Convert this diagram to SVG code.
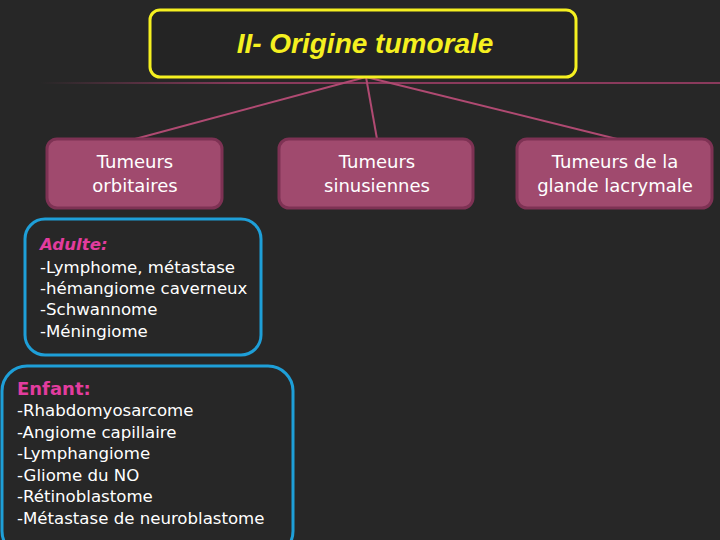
<svg xmlns="http://www.w3.org/2000/svg" width="720" height="540" viewBox="0 0 720 540">
<defs>
<linearGradient id="fade" x1="0" y1="0" x2="1" y2="0">
<stop offset="0" stop-color="#8a3a5c" stop-opacity="0"/>
<stop offset="0.3" stop-color="#8a3a5c" stop-opacity="1"/>
<stop offset="1" stop-color="#8a3a5c" stop-opacity="1"/>
</linearGradient>
</defs>
<style>
.bg{fill:#272727}
.conn{stroke:#b04a72;stroke-width:2;fill:none}
.node rect{fill:#a04a6e;stroke:#7e3254;stroke-width:3}
.node text{fill:#ffffff;font-family:"DejaVu Sans",sans-serif;font-size:18px;text-anchor:middle}
.list rect{fill:none;stroke:#1e9fd8;stroke-width:3}
.list text{fill:#ffffff;font-family:"DejaVu Sans",sans-serif;font-size:16.6px}
.list .head{fill:#e23c9e;font-weight:bold;font-style:italic}
</style>
<rect class="bg" x="0" y="0" width="720" height="540"/>
<rect x="40" y="82" width="680" height="2" fill="url(#fade)"/>
<g id="connectors">
<line class="conn" x1="366" y1="77" x2="135" y2="139"/>
<line class="conn" x1="366" y1="77" x2="377" y2="139"/>
<line class="conn" x1="366" y1="77" x2="617" y2="139"/>
</g>
<g id="title">
<rect x="150" y="10" width="426" height="67" rx="10" fill="#242424" stroke="#f5f020" stroke-width="3"/>
<text x="365" y="53" fill="#f5f020" font-family="Liberation Sans, sans-serif" font-size="28" font-weight="bold" font-style="italic" text-anchor="middle">II- Origine tumorale</text>
</g>
<g id="orbitaires" class="node">
<rect x="47" y="139" width="175" height="69" rx="10"/>
<text x="135" y="168">Tumeurs</text>
<text x="135" y="192">orbitaires</text>
</g>
<g id="sinusiennes" class="node">
<rect x="279" y="139" width="194" height="69" rx="10"/>
<text x="377" y="168">Tumeurs</text>
<text x="377" y="192">sinusiennes</text>
</g>
<g id="lacrymale" class="node">
<rect x="517" y="139" width="195" height="69" rx="10"/>
<text x="615" y="168">Tumeurs de la</text>
<text x="615" y="192">glande lacrymale</text>
</g>
<g id="adulte" class="list">
<rect x="25" y="219" width="236" height="136" rx="20"/>
<text class="head" x="40" y="250">Adulte:</text>
<text x="40" y="273">-Lymphome, métastase</text>
<text x="40" y="294">-hémangiome caverneux</text>
<text x="40" y="315">-Schwannome</text>
<text x="40" y="337">-Méningiome</text>
</g>
<g id="enfant" class="list">
<rect x="2" y="366" width="291" height="190" rx="25"/>
<text class="head" x="17" y="395" style="font-style:normal;font-size:18px">Enfant:</text>
<text x="17" y="416">-Rhabdomyosarcome</text>
<text x="17" y="438">-Angiome capillaire</text>
<text x="17" y="459">-Lymphangiome</text>
<text x="17" y="481">-Gliome du NO</text>
<text x="17" y="502">-Rétinoblastome</text>
<text x="17" y="524">-Métastase de neuroblastome</text>
</g>
</svg>
